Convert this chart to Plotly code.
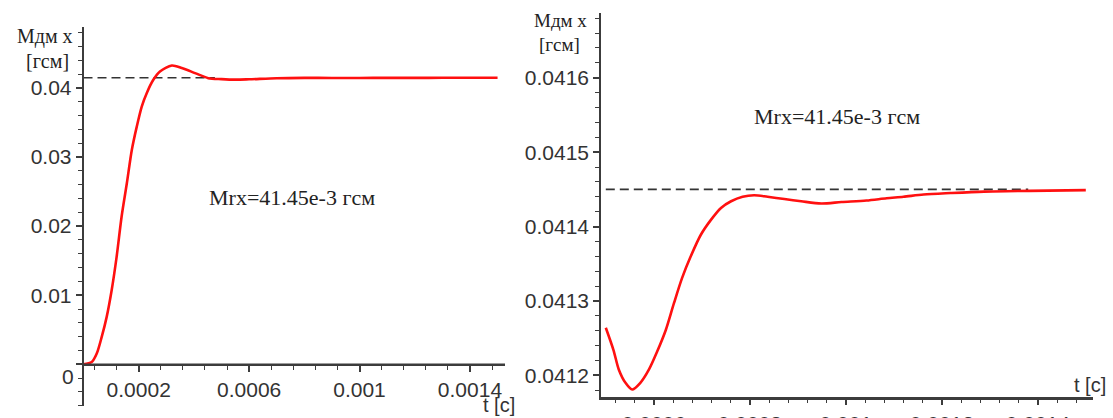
import numpy as np
import plotly.graph_objects as go

W, H = 1113, 418

# ---- data ----
t_left = [0.0, 0.00003, 0.000048, 0.000066, 0.000084, 0.000102, 0.00012, 0.000138,
          0.000157, 0.000175, 0.000193, 0.000211, 0.000229, 0.000253, 0.000277,
          0.00032, 0.000356, 0.000404, 0.000452, 0.0005, 0.00055, 0.0006, 0.0007,
          0.0008, 0.0009, 0.001, 0.0011, 0.0012, 0.0013, 0.0014, 0.0015]
m_left = [0.0, 0.00033, 0.00155, 0.00396, 0.00686, 0.01072, 0.01555, 0.02135,
          0.02619, 0.03101, 0.03439, 0.03729, 0.03923, 0.04116, 0.04236,
          0.04323, 0.04286, 0.04213, 0.0414, 0.04126, 0.04118, 0.04123, 0.04139,
          0.04144, 0.04143, 0.04143, 0.04144, 0.04144, 0.04145, 0.04145, 0.04145]

t_right = [0.0005, 0.000516, 0.000527, 0.000541, 0.000555, 0.000572, 0.00059,
           0.000607, 0.000625, 0.000642, 0.000659, 0.000677, 0.000698, 0.000719,
           0.00074, 0.000761, 0.000785, 0.000809, 0.000837, 0.000872, 0.000907,
           0.000949, 0.000991, 0.001043, 0.001085, 0.00112, 0.001162, 0.001218,
           0.001288, 0.001382, 0.0015]
m_right = [0.041264, 0.041234, 0.041208, 0.04119, 0.041181, 0.04119, 0.041208,
           0.041232, 0.041261, 0.041297, 0.041331, 0.04136, 0.041389, 0.041409,
           0.041425, 0.041434, 0.04144, 0.041442, 0.04144, 0.041437, 0.041434,
           0.041431, 0.041433, 0.041435, 0.041438, 0.04144, 0.041443, 0.041445,
           0.041447, 0.041448, 0.041449]

m_ref = 0.04145
ref_left_t = [0.0, 0.000476]
ref_right_t = [0.0005, 0.00138]

xt_left = [0.0002, 0.0006, 0.001, 0.0014]
xt_left_txt = ["0.0002", "0.0006", "0.001", "0.0014"]
yt_left = [0.0, 0.01, 0.02, 0.03, 0.04]
yt_left_txt = ["", "0.01", "0.02", "0.03", "0.04"]   # "0" is placed below the axis crossing
zero_label = "0"
xt_right = [0.0006, 0.0008, 0.001, 0.0012, 0.0014]
xt_right_txt = ["0.0006", "0.0008", "0.001", "0.0012", "0.0014"]
yt_right = [0.0412, 0.0413, 0.0414, 0.0415, 0.0416]
yt_right_txt = ["0.0412", "0.0413", "0.0414", "0.0415", "0.0416"]

ylabel = ["Мдм x", "[гсм]"]
note = "Mrx=41.45e-3 гсм"
xlabel = "t [c]"

# ---- styling ----
RED = "#ff1010"
AX = "#3c3c3c"
SANS = "Liberation Sans Narrow, Liberation Sans, Arial"
SERIF = "Liberation Serif, Times New Roman, serif"

Y0 = 364.3      # pixel row of the left x axis (y = 0)


def tickfont():
    return dict(family=SANS, size=21, color="#333333")


def px(x):
    return x / W


def py(y):
    return 1 - y / H


def grid_vals(lo, hi, step):
    return [float(v) for v in np.round(np.arange(lo, hi + step / 2, step), 8)]


fig = go.Figure()

fig.add_trace(go.Scatter(x=ref_left_t, y=[m_ref, m_ref], mode="lines",
                         line=dict(color="#333333", width=1.6, dash="9px,5px"),
                         xaxis="x", yaxis="y"))
fig.add_trace(go.Scatter(x=t_left, y=m_left, mode="lines",
                         line=dict(color=RED, width=2.6, shape="spline", smoothing=0.8),
                         xaxis="x", yaxis="y"))
fig.add_trace(go.Scatter(x=ref_right_t, y=[m_ref, m_ref], mode="lines",
                         line=dict(color="#333333", width=1.6, dash="9px,5px"),
                         xaxis="x2", yaxis="y2"))
fig.add_trace(go.Scatter(x=t_right, y=m_right, mode="lines",
                         line=dict(color=RED, width=2.6, shape="spline", smoothing=0.8),
                         xaxis="x2", yaxis="y2"))
# empty trace so the stub of the left y axis below zero is drawn
fig.add_trace(go.Scatter(x=[], y=[], mode="lines", xaxis="x", yaxis="y3"))


def common():
    return dict(showline=True, linecolor=AX, linewidth=1.5, showgrid=False, zeroline=False,
                ticks="outside", ticklen=6, tickwidth=1.5, tickcolor=AX,
                tickfont=tickfont(), tickmode="array", automargin=False)


def minor(vals):
    return dict(tickmode="array", tickvals=vals, ticklen=4, tickwidth=1.3,
                tickcolor=AX, ticks="outside", showgrid=False)


fig.update_layout(
    template="none",
    width=W, height=H,
    margin=dict(l=0, r=0, t=0, b=0, pad=0, autoexpand=False),
    showlegend=False,
    xaxis=dict(domain=[px(83.5), px(505)], range=[0, 0.001527], anchor="y",
               tickvals=xt_left, ticktext=xt_left_txt,
               minor=minor(grid_vals(0.00004, 0.0015, 0.00008)),
               **common()),
    yaxis=dict(domain=[py(Y0), py(27)], range=[0, 0.0488], anchor="x",
               tickvals=yt_left, ticktext=yt_left_txt,
               minor=minor(grid_vals(0.002, 0.048, 0.002)), **common()),
    yaxis3=dict(domain=[py(405.7), py(Y0)], range=[-0.006, 0], anchor="x",
                showline=True, linecolor=AX, linewidth=1.5, showgrid=False, zeroline=False,
                ticks="outside", ticklen=4, tickwidth=1.3, tickcolor=AX,
                tickmode="array", tickvals=grid_vals(-0.006, -0.002, 0.002),
                showticklabels=False, automargin=False),
    xaxis2=dict(domain=[px(601), px(1093)], range=[0.00049, 0.001515], anchor="y2",
                tickvals=xt_right, ticktext=xt_right_txt,
                minor=minor(grid_vals(0.00052, 0.0015, 0.00004)),
                **common()),
    yaxis2=dict(domain=[py(397.7), py(13)], range=[0.04117, 0.041687], anchor="x2",
                tickvals=yt_right, ticktext=yt_right_txt,
                minor=minor(grid_vals(0.04118, 0.04168, 0.00002)), **common()),
)

# horizontal axis lines drawn explicitly along the bottom of each plot area
fig.add_shape(type="line", xref="x domain", yref="y domain", x0=0, x1=1, y0=0, y1=0,
              line=dict(color=AX, width=1.5), layer="above")
fig.add_shape(type="line", xref="x2 domain", yref="y2 domain", x0=0, x1=1, y0=0, y1=0,
              line=dict(color=AX, width=1.5), layer="above")

ann = []
# left axis title
ann.append(dict(x=px(45), y=py(37), text=ylabel[0], font=dict(family=SERIF, size=20, color="#222")))
ann.append(dict(x=px(47), y=py(61), text=ylabel[1], font=dict(family=SERIF, size=20, color="#222")))
# right axis title
ann.append(dict(x=px(560), y=py(21), text=ylabel[0], font=dict(family=SERIF, size=19, color="#222")))
ann.append(dict(x=px(559), y=py(45), text=ylabel[1], font=dict(family=SERIF, size=19, color="#222")))
# notes
ann.append(dict(x=px(292), y=py(197), text=note, font=dict(family=SERIF, size=22, color="#222")))
ann.append(dict(x=px(837), y=py(117), text=note, font=dict(family=SERIF, size=22, color="#222")))
# zero label of left y axis
ann.append(dict(x=px(67.5), y=py(376), text=zero_label, font=tickfont()))
# x labels
ann.append(dict(x=px(499), y=py(405), text=xlabel, font=dict(family=SANS, size=20, color="#333")))
ann.append(dict(x=px(1090), y=py(385), text=xlabel, font=dict(family=SANS, size=20, color="#333")))
for a in ann:
    a.update(xref="paper", yref="paper", showarrow=False, xanchor="center", yanchor="middle")
fig.update_layout(annotations=ann)

fig.write_html("out.html")
